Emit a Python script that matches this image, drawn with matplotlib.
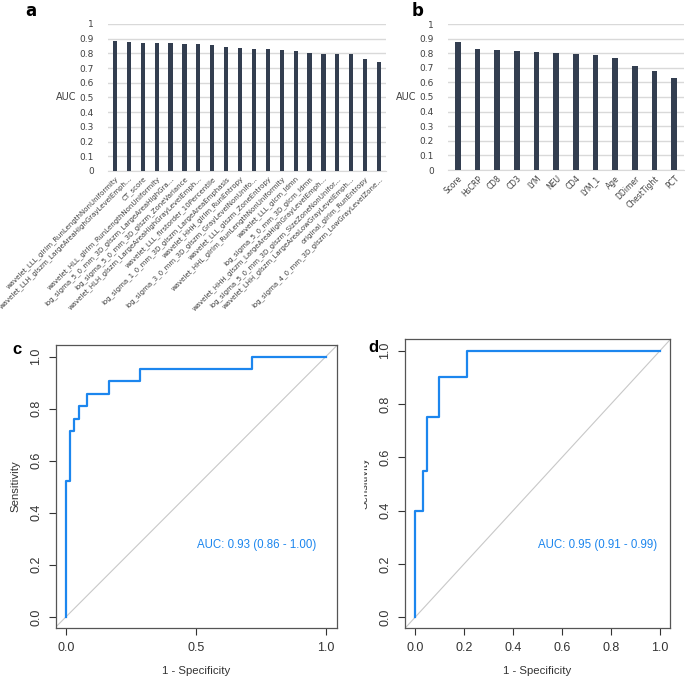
import numpy as np
import matplotlib
matplotlib.use("Agg")
import matplotlib.pyplot as plt
from matplotlib.patches import Rectangle

# ── data ──────────────────────────────────────────────────────────────────────
feat_names = [
    "wavelet_LLL_glrlm_RunLengthNonUniformity",
    "wavelet_LLH_glszm_LargeAreaHighGrayLevelEmph...",
    "CT_score",
    "wavelet_HLL_glrlm_RunLengthNonUniformity",
    "log_sigma_5_0_mm_3D_glszm_LargeAreaHighGra...",
    "log_sigma_5_0_mm_3D_glszm_ZoneVariance",
    "wavelet_HLH_glszm_LargeAreaHighGrayLevelEmph...",
    "wavelet_LLL_firstorder_10Percentile",
    "log_sigma_1_0_mm_3D_glszm_LargeAreaEmphasis",
    "wavelet_HHH_glrlm_RunEntropy",
    "log_sigma_3_0_mm_3D_glszm_GrayLevelNonUnifo...",
    "wavelet_LLL_glszm_ZoneEntropy",
    "wavelet_HHL_glrlm_RunLengthNonUniformity",
    "wavelet_LLL_glcm_Idmn",
    "log_sigma_5_0_mm_3D_glcm_Idmn",
    "wavelet_HHH_glszm_LargeAreaHighGrayLevelEmph...",
    "log_sigma_5_0_mm_3D_glszm_SizeZoneNonUnifor...",
    "wavelet_LHH_glszm_LargeAreaLowGrayLevelEmph...",
    "original_glrlm_RunEntropy",
    "log_sigma_4_0_mm_3D_glszm_LowGrayLevelZone...",
]
feat_auc = [0.884, 0.876, 0.873, 0.873, 0.868, 0.862, 0.862, 0.857, 0.843, 0.834,
            0.830, 0.830, 0.821, 0.814, 0.801, 0.798, 0.795, 0.795, 0.762, 0.741]

clin_names = ["Score", "HsCRP", "CD8", "CD3", "LYM", "NEU", "CD4", "LYM_1",
              "Age", "DDimer", "ChestTight", "PCT"]
clin_auc = [0.880, 0.828, 0.823, 0.812, 0.805, 0.802, 0.796, 0.787,
            0.764, 0.713, 0.678, 0.628]

# ROC curves (1 - specificity, sensitivity) as step corners
roc_c_fpr = [0.0, 0.0, 0.015, 0.015, 0.031, 0.031, 0.049, 0.049, 0.082, 0.082,
             0.167, 0.167, 0.285, 0.285, 0.718, 0.718, 1.0]
roc_c_tpr = [0.0, 0.524, 0.524, 0.714, 0.714, 0.762, 0.762, 0.810, 0.810, 0.857,
             0.857, 0.905, 0.905, 0.952, 0.952, 1.0, 1.0]
roc_d_fpr = [0.0, 0.0, 0.031, 0.031, 0.048, 0.048, 0.098, 0.098, 0.212, 0.212, 1.0]
roc_d_tpr = [0.0, 0.40, 0.40, 0.55, 0.55, 0.75, 0.75, 0.90, 0.90, 1.0, 1.0]
auc_c_text = "AUC: 0.93 (0.86 - 1.00)"
auc_d_text = "AUC: 0.95 (0.91 - 0.99)"

BAR_COL  = "#333e50"
GRID_COL = "#d9d9d9"
TXT_COL  = "#404040"
ROC_COL  = "#1c86ee"

W = 685.0
fig = plt.figure(figsize=(6.85, 6.85), dpi=100)


def px_axes(x0, y0, x1, y1):
    # pixel box (top-left origin) -> figure axes
    return fig.add_axes([x0 / W, 1 - y1 / W, (x1 - x0) / W, (y1 - y0) / W])


def bar_panel(ax, names, vals, lab_size):
    x = np.arange(len(vals))
    ax.bar(x, vals, width=0.3, color=BAR_COL, zorder=3)
    ax.set_xlim(-0.5, len(vals) - 0.5)
    ax.set_ylim(0, 1)
    ax.set_yticks(np.arange(0, 1.01, 0.1))
    ax.set_yticklabels(["0", "0.1", "0.2", "0.3", "0.4", "0.5", "0.6", "0.7",
                        "0.8", "0.9", "1"], fontsize=6.5, color=TXT_COL)
    ax.yaxis.grid(True, color=GRID_COL, lw=1, zorder=0)
    for s in ["top", "right", "left"]:
        ax.spines[s].set_visible(False)
    ax.spines["bottom"].set_color(GRID_COL)
    ax.tick_params(axis="y", length=0, pad=10)
    ax.tick_params(axis="x", length=0, pad=3)
    ax.set_xticks(x)
    ax.set_xticklabels(names, rotation=45, ha="right", rotation_mode="anchor",
                       fontsize=lab_size, color=TXT_COL)
    ax.set_ylabel("AUC", rotation=0, fontsize=7, color=TXT_COL, labelpad=10,
                  va="center")


# ── panel a ──
ax_a = px_axes(108, 24, 386, 171)
bar_panel(ax_a, feat_names, feat_auc, 5.0)
fig.text(25 / W, 1 - 11 / W, "a", fontsize=12, fontweight="bold", va="center")

# ── panel b ──
ax_b = px_axes(448, 24, 684, 170)
bar_panel(ax_b, clin_names, clin_auc, 5.5)
fig.text(412 / W, 1 - 11 / W, "b", fontsize=12, fontweight="bold", va="center")


def roc_panel(ax, fpr, tpr, txt, xticks, xlims, ylims, tx, ty):
    ax.axline((0, 0), (1, 1), color="#c8c8c8", lw=0.8)
    ax.plot(fpr, tpr, color=ROC_COL, lw=1.6)
    ax.set_xlim(*xlims)
    ax.set_ylim(*ylims)
    ax.set_xticks(xticks)
    ax.set_xticklabels([f"{v:.1f}" for v in xticks])
    ax.set_yticks([0, 0.2, 0.4, 0.6, 0.8, 1.0])
    ax.set_yticklabels(["0.0", "0.2", "0.4", "0.6", "0.8", "1.0"], rotation=90,
                       va="center")
    ax.tick_params(labelsize=9, colors="#333333", length=5, width=0.8, pad=5)
    for s in ax.spines.values():
        s.set_color("#555555")
        s.set_linewidth(0.9)
    ax.set_xlabel("1 - Specificity", fontsize=8.2, color="#333333", labelpad=9)
    ax.set_ylabel("Sensitivity", fontsize=8.2, color="#333333", labelpad=7)
    ax.text(tx, ty, txt, color=ROC_COL, fontsize=8.3, ha="left", va="center")


plt.rcParams["font.family"] = ["Liberation Sans", "DejaVu Sans"]

# ── panel c ──
ax_c = px_axes(56, 345, 337, 628)
roc_panel(ax_c, roc_c_fpr, roc_c_tpr, auc_c_text, [0.0, 0.5, 1.0],
          (-0.0385, 1.0435), (-0.043, 1.045), 0.503, 0.278)
fig.text(12 / W, 1 - 349 / W, "c", fontsize=12, fontweight="bold", va="center")

# ── panel d ──
ax_d = px_axes(405, 339, 670, 628)
roc_panel(ax_d, roc_d_fpr, roc_d_tpr, auc_d_text, [0.0, 0.2, 0.4, 0.6, 0.8, 1.0],
          (-0.041, 1.041), (-0.04, 1.044), 0.503, 0.27)
# the y label of panel d is mostly covered in the original figure
fig.patches.append(Rectangle((342 / W, 1 - 520 / W), 21 / W, 70 / W,
                             transform=fig.transFigure, color="white", zorder=5))
fig.text(368 / W, 1 - 348 / W, "d", fontsize=12, fontweight="bold", va="center")

fig.savefig("out.png", dpi=100)
